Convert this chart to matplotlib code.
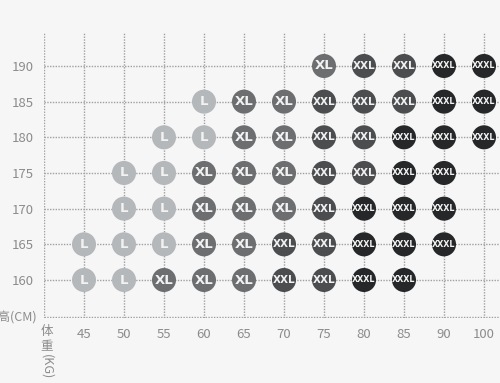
import matplotlib
matplotlib.use("Agg")
import matplotlib.pyplot as plt
from matplotlib import font_manager

plt.rcParams['font.family'] = ['Noto Sans CJK SC', 'DejaVu Sans']

weights = ["45", "50", "55", "60", "65", "70", "75", "80", "85", "90", "100"]
heights = ["160", "165", "170", "175", "180", "185", "190"]

# sizes per height row, keyed by weight label
row_160 = {"45": "L", "50": "L", "55": "XL", "60": "XL", "65": "XL", "70": "XXL", "75": "XXL", "80": "XXXL", "85": "XXXL"}
row_165 = {"45": "L", "50": "L", "55": "L", "60": "XL", "65": "XL", "70": "XXL", "75": "XXL", "80": "XXXL", "85": "XXXL", "90": "XXXL"}
row_170 = {"50": "L", "55": "L", "60": "XL", "65": "XL", "70": "XL", "75": "XXL", "80": "XXXL", "85": "XXXL", "90": "XXXL"}
row_175 = {"50": "L", "55": "L", "60": "XL", "65": "XL", "70": "XL", "75": "XXL", "80": "XXL", "85": "XXXL", "90": "XXXL"}
row_180 = {"55": "L", "60": "L", "65": "XL", "70": "XL", "75": "XXL", "80": "XXL", "85": "XXXL", "90": "XXXL", "100": "XXXL"}
row_185 = {"60": "L", "65": "XL", "70": "XL", "75": "XXL", "80": "XXL", "85": "XXL", "90": "XXXL", "100": "XXXL"}
row_190 = {"75": "XL", "80": "XXL", "85": "XXL", "90": "XXXL", "100": "XXXL"}
rows = [row_160, row_165, row_170, row_175, row_180, row_185, row_190]

size_colors = {"L": "#b5b8ba", "XL": "#6c6e70", "XXL": "#4c4d4f", "XXXL": "#262728"}

installed = {f.name for f in font_manager.fontManager.ttflist}
narrow = "Liberation Sans Narrow" if "Liberation Sans Narrow" in installed else None
if narrow:
    label_family = narrow
    size_fonts = {"L": 10.5, "XL": 10.5, "XXL": 9.0, "XXXL": 7.5}
else:
    label_family = "DejaVu Sans"
    size_fonts = {"L": 9.5, "XL": 9.5, "XXL": 7.5, "XXXL": 5.8}

W, H = 500, 383
fig = plt.figure(figsize=(W / 100, H / 100), dpi=100)
bg = "#f6f6f6"
fig.patch.set_facecolor(bg)

left_px, right_px, bottom_px, top_px = 44, 500, 318, 33
ax = fig.add_axes([left_px / W, 1 - bottom_px / H, (right_px - left_px) / W, (bottom_px - top_px) / H])
ax.set_facecolor(bg)

sx = 40.0
sy = 35.67
ax.set_xlim(-1, -1 + (right_px - left_px) / sx)
ax.set_ylim(-(bottom_px - 280) / sy, -(bottom_px - 280) / sy + (bottom_px - top_px) / sy)

grid_kw = dict(color="#a0a0a0", linestyle=(0, (1, 1)), linewidth=1.0, zorder=1)
for i in range(len(weights)):
    ax.axvline(i, **grid_kw)
for j in range(len(heights)):
    ax.axhline(j, **grid_kw)
ax.axvline(-1, **grid_kw)
ax.axhline(ax.get_ylim()[0] + 0.02, **grid_kw)

for s in ax.spines.values():
    s.set_visible(False)

for j, row in enumerate(rows):
    for w, size in row.items():
        i = weights.index(w)
        ax.scatter(i, j, s=300, color=size_colors[size], edgecolors="none", zorder=3)
        ax.text(i, j, size, color="#f2f2f2", fontsize=size_fonts[size], fontweight="bold",
                ha="center", va="center", zorder=4, family=label_family)

ax.set_xticks(range(len(weights)))
ax.set_xticklabels(weights)
ax.set_yticks(range(len(heights)))
ax.set_yticklabels(heights)
ax.tick_params(length=0, colors="#8c8c8c", labelsize=9.5)
ax.tick_params(axis="x", pad=7)
ax.tick_params(axis="y", pad=7)

fig.text(37 / W, 1 - 318 / H, "身高(CM)", ha="right", va="center", color="#8c8c8c", fontsize=9)
fig.text(47 / W, 1 - 332 / H, "体", ha="center", va="center", color="#8c8c8c", fontsize=9)
fig.text(47 / W, 1 - 347 / H, "重", ha="center", va="center", color="#8c8c8c", fontsize=9)
fig.text(47 / W, 1 - 367 / H, "(KG)", ha="center", va="center", color="#8c8c8c", fontsize=9, rotation=-90)

fig.savefig("out.png", dpi=100, facecolor=bg)
